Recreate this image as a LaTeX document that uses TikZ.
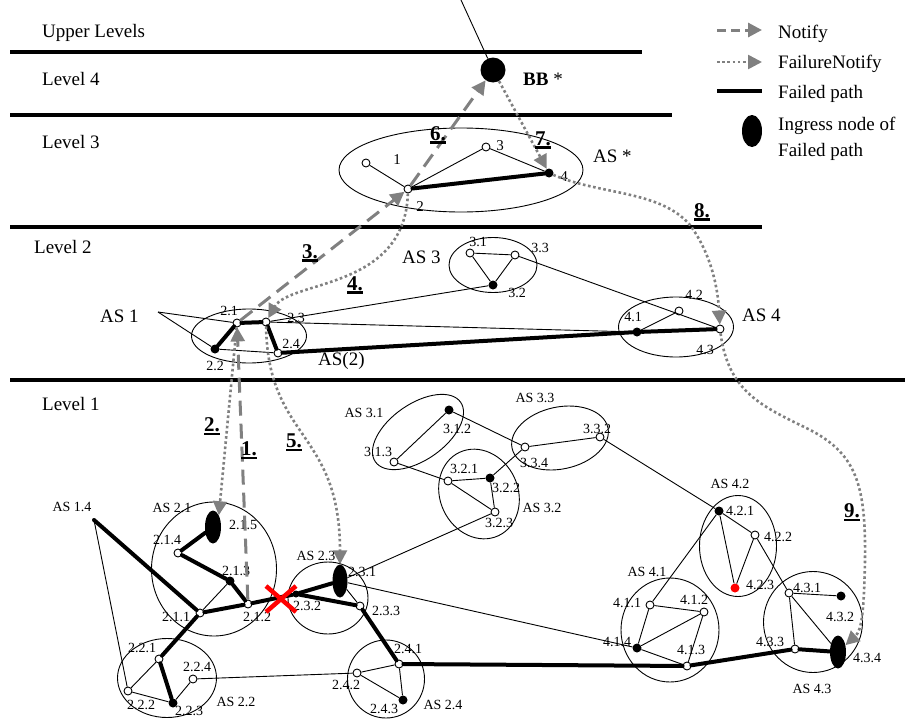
\documentclass[tikz,border=0pt]{standalone}
\usepackage{fontspec}
\setmainfont{Liberation Serif}
\usepackage{tikz}
\usetikzlibrary{arrows.meta, shapes.geometric}
\definecolor{msggray}{RGB}{128,128,128}
\newcommand{\stepno}[1]{\vtop{\hbox{#1}\kern1.2pt\hrule height 2.6pt}}

\begin{document}
\begin{tikzpicture}[
      x=1pt, y=-1pt,
      levelline/.style={line width=3.5pt},
      levellab/.style={font=\fontsize{19}{19}\selectfont, anchor=base west, inner sep=0pt},
      biglab/.style={font=\fontsize{19}{19}\selectfont, anchor=base west, inner sep=0pt},
      aslab/.style={font=\fontsize{14}{14}\selectfont, inner sep=0pt},
      numlab/.style={font=\fontsize{14}{14}\selectfont, inner sep=0pt},
      toplab/.style={font=\fontsize{15}{15}\selectfont, inner sep=0pt},
      steplab/.style={font=\fontsize{21}{21}\selectfont\bfseries, anchor=base, inner sep=0pt},
      asring/.style={ellipse, draw, line width=0.9pt, inner sep=0pt},
      opennode/.style={circle, draw, fill=white, line width=0.9pt, inner sep=0pt, minimum size=8pt},
      blacknode/.style={circle, fill=black, inner sep=0pt, minimum size=9pt},
      ingress/.style={ellipse, fill=black, inner sep=0pt, minimum width=16pt, minimum height=33pt},
      link/.style={line width=0.9pt},
      failed/.style={line width=4pt, line cap=round},
      notify/.style={-{Triangle[length=14pt, width=14pt]}, msggray, line width=3pt, dash pattern=on 15pt off 8pt},
      failnotify/.style={-{Triangle[length=14pt, width=14pt]}, msggray, line width=2.6pt, dash pattern=on 2.6pt off 2.6pt},
      redx/.style={red, line width=4.5pt}
    ]
      \useasboundingbox (0,0) rectangle (911,720);

      % Level separators
      \coordinate (sepa) at (10,52);   \coordinate (sepb) at (642,52);
      \coordinate (sepc) at (10,115);  \coordinate (sepd) at (672,115);
      \coordinate (sepe) at (10,227);  \coordinate (sepf) at (762,227);
      \coordinate (sepg) at (10,380);  \coordinate (seph) at (905,380);
      \draw[levelline] (sepa) -- (sepb);
      \draw[levelline] (sepc) -- (sepd);
      \draw[levelline] (sepe) -- (sepf);
      \draw[levelline] (sepg) -- (seph);

      \node[levellab] (upperlab) at (42,37) {Upper Levels};
      \node[levellab] (lev4lab) at (42,85) {Level 4};
      \node[levellab] (lev3lab) at (42,148) {Level 3};
      \node[levellab] (lev2lab) at (34,253) {Level 2};
      \node[levellab] (lev1lab) at (42,410) {Level 1};

      % Legend
      \coordinate (keya) at (717,30);  \coordinate (keyb) at (762,30);
      \coordinate (keyc) at (717,62);  \coordinate (keyd) at (762,62);
      \coordinate (keye) at (717,91);  \coordinate (keyf) at (762,91);
      \draw[notify, dash pattern=on 9pt off 5pt] (keya) -- (keyb);
      \draw[failnotify] (keyc) -- (keyd);
      \draw[failed, line cap=butt] (keye) -- (keyf);
      \node[ingress, minimum width=20pt, minimum height=32pt] (keyingress) at (752,131) {};
      \node[levellab] (keynotify) at (778,38) {Notify};
      \node[levellab] (keyfail) at (778,68) {FailureNotify};
      \node[levellab] (keypath) at (778,98) {Failed path};
      \node[levellab] (keyin) at (778,130) {Ingress node of};
      \node[levellab] (keyin2) at (778,156) {Failed path};

      % Level 4
      \coordinate (bbwire) at (461,0);
      \node[circle, fill=black, inner sep=0pt, minimum size=25pt] (bb) at (493,70) {};
      \draw[link] (bbwire) -- (bb);
      \node[biglab] (bblab) at (523,85) {\textbf{BB} *};

      % Level 3
      \node[asring, minimum width=244pt, minimum height=84pt] (asstar) at (461,170) {};
      \node[biglab] (asstarlab) at (593,162) {AS *};
      \node[opennode] (n1) at (366,163) {};
      \node[opennode] (n2) at (408,189) {};
      \node[opennode] (n3) at (486,147) {};
      \node[blacknode] (n4) at (549,173) {};
      \node[toplab] (l1) at (397,160) {1};
      \node[toplab] (l2) at (420,207) {2};
      \node[toplab] (l3) at (500,146) {3};
      \node[toplab] (l4) at (564,177) {4};
      \draw[link] (n1) -- (n2);
      \draw[link] (n2) -- (n3);
      \draw[link] (n3) -- (n4);
      \draw[failed] (n2) -- (n4);

      % Level 2
      \node[asring, minimum width=115pt, minimum height=54pt] (as1) at (249,336) {};
      \node[asring, minimum width=88pt, minimum height=55pt] (as3) at (493,265) {};
      \node[asring, minimum width=115pt, minimum height=60pt] (as4) at (676,327) {};
      \node[biglab] (as1lab) at (100,322) {AS 1};
      \node[biglab] (as2lab) at (318,365) {AS(2)};
      \node[biglab] (as3lab) at (402,263) {AS 3};
      \node[biglab] (as4lab) at (742,321) {AS 4};
      \coordinate (as1tip) at (158,312);

      \node[opennode] (n21) at (237,323) {};
      \node[opennode] (n23) at (266,322) {};
      \node[blacknode] (n22) at (215,349) {};
      \node[opennode] (n24) at (278,353) {};
      \node[opennode] (n31) at (470,253) {};
      \node[opennode] (n33) at (515,255) {};
      \node[blacknode] (n32) at (493,285) {};
      \node[blacknode] (n41) at (637,332) {};
      \node[opennode] (n42) at (679,311) {};
      \node[opennode] (n43) at (720,329) {};

      \node[numlab] (l21) at (229,311) {2.1};
      \node[numlab] (l23) at (296,318) {2.3};
      \node[numlab] (l22) at (215,366) {2.2};
      \node[numlab] (l24) at (291,344) {2.4};
      \node[numlab] (l31) at (478,242) {3.1};
      \node[numlab] (l33) at (540,248) {3.3};
      \node[numlab] (l32) at (517,293) {3.2};
      \node[numlab] (l41) at (633,317) {4.1};
      \node[numlab] (l42) at (694,295) {4.2};
      \node[numlab] (l43) at (705,350) {4.3};

      \draw[link] (as1tip) -- (n21);
      \draw[link] (as1tip) -- (n22);
      \draw[link] (n22) -- (n24);
      \draw[link] (n23) -- (n32);
      \draw[link] (n23) -- (n41);
      \draw[link] (n31) -- (n33);
      \draw[link] (n31) -- (n32);
      \draw[link] (n33) -- (n32);
      \draw[link] (n33) -- (n43);
      \draw[link] (n41) -- (n42);
      \draw[failed] (n22) -- (n21) -- (n23) -- (n24);
      \draw[failed] (n24) -- (n41) -- (n43);

      % Level 1: AS rings
      \node[asring, minimum width=125pt, minimum height=134pt] (as21) at (214,569) {};
      \node[asring, minimum width=99pt, minimum height=79pt] (as22) at (167,678) {};
      \node[asring, minimum width=80pt, minimum height=72pt] (as23) at (328,598) {};
      \node[asring, minimum width=77pt, minimum height=78pt] (as24) at (386,679) {};
      \node[asring, minimum width=104pt, minimum height=56pt, rotate=35] (as31) at (418,432) {};
      \node[asring, minimum width=92pt, minimum height=78pt, rotate=-65] (as32) at (479,494) {};
      \node[asring, minimum width=98pt, minimum height=62pt, rotate=12] (as33) at (560,438) {};
      \node[asring, minimum width=98pt, minimum height=104pt] (as41) at (670,630) {};
      \node[asring, minimum width=77pt, minimum height=101pt] (as42) at (738,546) {};
      \node[asring, minimum width=99pt, minimum height=101pt] (as43) at (813,622) {};

      \node[aslab] (as14lab) at (72,507) {AS 1.4};
      \node[aslab] (as21lab) at (172,508) {AS 2.1};
      \node[aslab] (as22lab) at (236,702) {AS 2.2};
      \node[aslab] (as23lab) at (316,556) {AS 2.3};
      \node[aslab] (as24lab) at (443,705) {AS 2.4};
      \node[aslab] (as31lab) at (364,413) {AS 3.1};
      \node[aslab] (as32lab) at (542,508) {AS 3.2};
      \node[aslab] (as33lab) at (535,398) {AS 3.3};
      \node[aslab] (as41lab) at (647,572) {AS 4.1};
      \node[aslab] (as42lab) at (730,484) {AS 4.2};
      \node[aslab] (as43lab) at (812,689) {AS 4.3};

      % Level 1: routers
      \coordinate (as14) at (94,520);
      \node[opennode] (n211) at (200,613) {};
      \node[opennode] (n212) at (248,604) {};
      \node[blacknode] (n213) at (230,581) {};
      \node[opennode] (n214) at (178,553) {};
      \node[ingress] (n215) at (213,527) {};
      \node[opennode] (n221) at (159,659) {};
      \node[opennode] (n222) at (128,691) {};
      \node[blacknode] (n223) at (173,703) {};
      \node[opennode] (n224) at (193,679) {};
      \node[ingress, minimum width=15pt] (n231) at (340,581) {};
      \node[blacknode, minimum size=7pt] (n232) at (296,594) {};
      \node[opennode] (n233) at (360,606) {};
      \node[opennode] (n241) at (399,664) {};
      \node[opennode] (n242) at (357,673) {};
      \node[blacknode] (n243) at (403,700) {};
      \node[blacknode] (n312) at (449,410) {};
      \node[opennode] (n313) at (394,462) {};
      \node[opennode] (n321) at (448,481) {};
      \node[blacknode] (n322) at (490,478) {};
      \node[opennode] (n323) at (495,512) {};
      \node[opennode] (n334) at (525,447) {};
      \node[opennode] (n332) at (600,437) {};
      \node[opennode] (n411) at (650,605) {};
      \node[opennode] (n412) at (704,612) {};
      \node[opennode] (n413) at (687,666) {};
      \node[blacknode] (n414) at (637,648) {};
      \node[blacknode] (n421) at (719,511) {};
      \node[opennode] (n422) at (755,535) {};
      \node[blacknode, fill=red] (n423) at (735,588) {};
      \node[opennode] (n431) at (789,593) {};
      \node[blacknode] (n432) at (841,596) {};
      \node[opennode] (n433) at (795,649) {};
      \node[ingress] (n434) at (838,652) {};

      \node[numlab] (l211) at (176,617) {2.1.1};
      \node[numlab] (l212) at (257,617) {2.1.2};
      \node[numlab] (l213) at (236,571) {2.1.3};
      \node[numlab] (l214) at (167,540) {2.1.4};
      \node[numlab] (l215) at (243,525) {2.1.5};
      \node[numlab] (l221) at (142,648) {2.2.1};
      \node[numlab] (l222) at (141,705) {2.2.2};
      \node[numlab] (l223) at (189,711) {2.2.3};
      \node[numlab] (l224) at (197,667) {2.2.4};
      \node[numlab] (l231) at (362,572) {2.3.1};
      \node[numlab] (l232) at (307,606) {2.3.2};
      \node[numlab] (l233) at (386,611) {2.3.3};
      \node[numlab] (l241) at (408,649) {2.4.1};
      \node[numlab] (l242) at (346,685) {2.4.2};
      \node[numlab] (l243) at (384,709) {2.4.3};
      \node[numlab] (l312) at (457,429) {3.1.2};
      \node[numlab] (l313) at (378,452) {3.1.3};
      \node[numlab] (l321) at (464,469) {3.2.1};
      \node[numlab] (l322) at (506,488) {3.2.2};
      \node[numlab] (l323) at (499,523) {3.2.3};
      \node[numlab] (l334) at (534,463) {3.3.4};
      \node[numlab] (l332) at (597,429) {3.3.2};
      \node[numlab] (l411) at (627,603) {4.1.1};
      \node[numlab] (l412) at (694,600) {4.1.2};
      \node[numlab] (l413) at (691,650) {4.1.3};
      \node[numlab] (l414) at (617,642) {4.1.4};
      \node[numlab] (l421) at (740,511) {4.2.1};
      \node[numlab] (l422) at (778,537) {4.2.2};
      \node[numlab] (l423) at (760,585) {4.2.3};
      \node[numlab] (l431) at (807,588) {4.3.1};
      \node[numlab] (l432) at (840,617) {4.3.2};
      \node[numlab] (l433) at (770,642) {4.3.3};
      \node[numlab] (l434) at (867,658) {4.3.4};

      % Level 1: links
      \draw[link] (as14) -- (n222);
      \draw[link] (n211) -- (n213);
      \draw[link] (n221) -- (n222);
      \draw[link] (n222) -- (n223);
      \draw[link] (n223) -- (n224);
      \draw[link] (n224) -- (n242);
      \draw[link] (n231) -- (n233);
      \draw[link] (n231) -- (n323);
      \draw[link] (n231) -- (n414);
      \draw[link] (n242) -- (n241);
      \draw[link] (n242) -- (n243);
      \draw[link] (n241) -- (n243);
      \draw[link] (n312) -- (n313);
      \draw[link] (n313) -- (n321);
      \draw[link] (n312) -- (n334);
      \draw[link] (n321) -- (n322);
      \draw[link] (n321) -- (n323);
      \draw[link] (n322) -- (n323);
      \draw[link] (n322) -- (n334);
      \draw[link] (n334) -- (n332);
      \draw[link] (n332) -- (n421);
      \draw[link] (n421) -- (n422);
      \draw[link] (n421) -- (n423);
      \draw[link] (n422) -- (n423);
      \draw[link] (n421) -- (n411);
      \draw[link] (n422) -- (n431);
      \draw[link] (n431) -- (n434);
      \draw[link] (n431) -- (n432);
      \draw[link] (n431) -- (n433);
      \draw[link] (n411) -- (n412);
      \draw[link] (n411) -- (n414);
      \draw[link] (n414) -- (n412);
      \draw[link] (n412) -- (n413);
      \draw[link] (n414) -- (n413);

      % Failed path
      \draw[failed] (as14) -- (n211) -- (n221) -- (n223);
      \draw[failed] (n215) -- (n214) -- (n213) -- (n212);
      \draw[failed] (n211) -- (n212) -- (n232) -- (n231);
      \draw[failed] (n232) -- (n233) -- (n241) -- (n413) -- (n433) -- (n434);

      % Link failure
      \coordinate (cut) at (281,599);
      \draw[redx] (cut) +(-15,-13) -- +(15,13);
      \draw[redx] (cut) +(-15,13) -- +(15,-13);

      % Notify messages
      \draw[notify] (n212) -- (n21);
      \draw[notify] (n21) -- (n2);
      \draw[notify] (n2) -- (bb);

      % FailureNotify messages
      \draw[failnotify] (n21) -- (n215.north east);
      \draw[failnotify] (n2) .. controls (405,290) and (290,280) .. (n23);
      \draw[failnotify] (n23) .. controls (268,440) and (340,430) .. (n231);
      \draw[failnotify] (bb) -- (n4);
      \draw[failnotify] (n4) .. controls (600,195) and (660,190) .. (690,225)
        .. controls (712,255) and (718,290) .. (n43);
      \draw[failnotify] (n43) .. controls (728,390) and (760,405) .. (800,425)
        .. controls (855,450) and (866,480) .. (865,560)
        .. controls (864,610) and (862,630) .. (n434);

      % Step numbers
      \node[steplab] (s1) at (249,455) {\stepno{1.}};
      \node[steplab] (s2) at (212,431) {\stepno{2.}};
      \node[steplab] (s3) at (310,258) {\stepno{3.}};
      \node[steplab] (s4) at (355,290) {\stepno{4.}};
      \node[steplab] (s5) at (294,447) {\stepno{5.}};
      \node[steplab] (s6) at (438,140) {\stepno{6.}};
      \node[steplab] (s7) at (543,145) {\stepno{7.}};
      \node[steplab] (s8) at (702,217) {\stepno{8.}};
      \node[steplab] (s9) at (852,517) {\stepno{9.}};
    \end{tikzpicture}
\end{document}
